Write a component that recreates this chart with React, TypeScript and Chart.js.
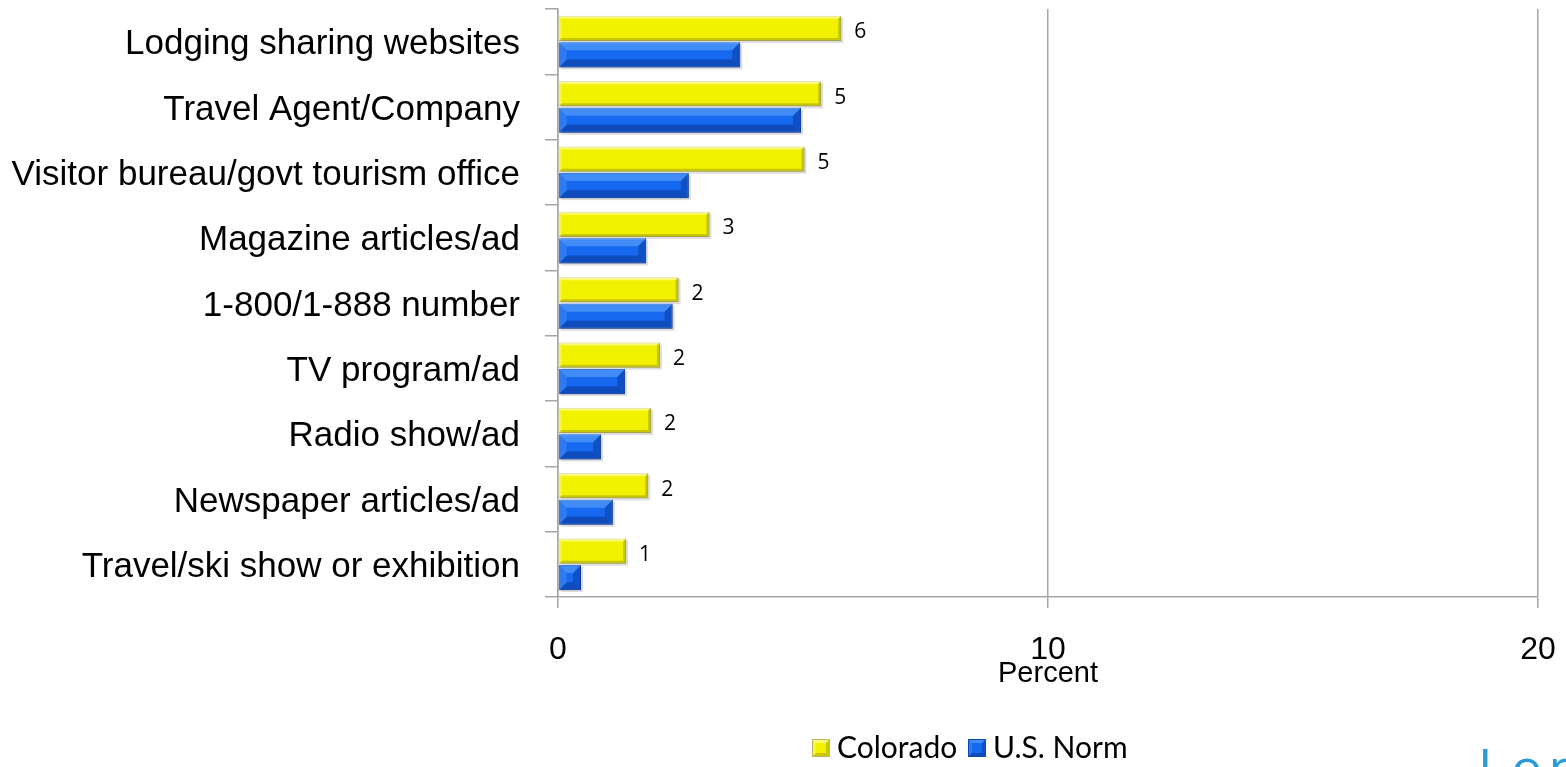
import React, { useEffect, useRef } from 'react';
import { Chart, registerables } from 'chart.js';

Chart.register(...registerables);

const categories = [
  'Lodging sharing websites',
  'Travel Agent/Company',
  'Visitor bureau/govt tourism office',
  'Magazine articles/ad',
  '1-800/1-888 number',
  'TV program/ad',
  'Radio show/ad',
  'Newspaper articles/ad',
  'Travel/ski show or exhibition',
];
const coloradoValues = [5.78, 5.37, 5.03, 3.09, 2.46, 2.08, 1.9, 1.84, 1.39];
const usNormValues = [3.72, 4.96, 2.67, 1.8, 2.34, 1.37, 0.88, 1.12, 0.47];
const coloradoLabels = ['6', '5', '5', '3', '2', '2', '2', '2', '1'];
const seriesNames = ['Colorado', 'U.S. Norm'];
const xMin = 0;
const xMax = 20;
const xStep = 10;
const axisTitle = 'Percent';
const logoText = 'Longwoods';

const ARIAL = "'Liberation Sans', Arial, sans-serif";
const CALIBRI = "'Open Sans', 'Noto Sans', sans-serif";
const LEGEND_FONT = "Lato, 'Open Sans', sans-serif";
const GRID = '#a6a6a6';
const YELLOW = '#F2F200';
const BLUE = '#1668EE';

type Bevel = { b: number; hi: string; lo: string; side: string; lside: string };
const yellowBevel: Bevel = { b: 3, hi: 'rgba(255,255,210,0.55)', lo: 'rgba(120,120,0,0.35)', side: 'rgba(120,120,0,0.35)', lside: 'rgba(255,255,200,0.3)' };
const blueBevel: Bevel = { b: 8, hi: 'rgba(110,175,255,0.5)', lo: 'rgba(0,20,90,0.32)', side: 'rgba(0,20,90,0.28)', lside: 'rgba(130,190,255,0.22)' };

function poly(ctx: CanvasRenderingContext2D, pts: number[][], fill: string) {
  ctx.beginPath();
  ctx.moveTo(pts[0][0], pts[0][1]);
  for (let i = 1; i < pts.length; i++) ctx.lineTo(pts[i][0], pts[i][1]);
  ctx.closePath();
  ctx.fillStyle = fill;
  ctx.fill();
}

function drawBevel(ctx: CanvasRenderingContext2D, l: number, t: number, r: number, bo: number, s: Bevel) {
  const b = Math.min(s.b, (r - l) / 2, (bo - t) / 2);
  poly(ctx, [[l, t], [r, t], [r - b, t + b], [l + b, t + b]], s.hi);
  poly(ctx, [[l, bo], [r, bo], [r - b, bo - b], [l + b, bo - b]], s.lo);
  poly(ctx, [[r, t], [r, bo], [r - b, bo - b], [r - b, t + b]], s.side);
  poly(ctx, [[l, t], [l, bo], [l + b, bo - b], [l + b, t + b]], s.lside);
}

const barEffects = {
  id: 'barEffects',
  beforeDatasetsDraw(chart: any) {
    const ctx = chart.ctx as CanvasRenderingContext2D;
    ctx.save();
    chart.data.datasets.forEach((_: any, di: number) => {
      chart.getDatasetMeta(di).data.forEach((bar: any) => {
        const { x, y, base, height } = bar.getProps(['x', 'y', 'base', 'height'], true);
        const l = Math.min(x, base);
        const w = Math.abs(x - base);
        ctx.fillStyle = 'rgba(0,0,0,0.13)';
        ctx.fillRect(l + 2, y - height / 2 + 2, w, height);
      });
    });
    ctx.restore();
  },
  afterDatasetsDraw(chart: any) {
    const ctx = chart.ctx as CanvasRenderingContext2D;
    ctx.save();
    chart.data.datasets.forEach((_: any, di: number) => {
      chart.getDatasetMeta(di).data.forEach((bar: any, i: number) => {
        const { x, y, base, height } = bar.getProps(['x', 'y', 'base', 'height'], true);
        const l = Math.min(x, base);
        const r = Math.max(x, base);
        drawBevel(ctx, l, y - height / 2, r, y + height / 2, di === 0 ? yellowBevel : blueBevel);
        if (di === 0) {
          ctx.fillStyle = '#000';
          ctx.font = `21px ${CALIBRI}`;
          ctx.textAlign = 'left';
          ctx.textBaseline = 'middle';
          ctx.fillText(coloradoLabels[i], r + 13, y + 4);
        }
      });
    });
    ctx.restore();
  },
  afterDraw(chart: any) {
    const ctx = chart.ctx as CanvasRenderingContext2D;
    ctx.save();
    // legend
    const items = [
      { text: seriesNames[0], color: YELLOW, bevel: yellowBevel, box: 812 },
      { text: seriesNames[1], color: BLUE, bevel: blueBevel, box: 968 },
    ];
    const cy = 748;
    items.forEach((it) => {
      const l = it.box;
      const t = cy - 9;
      ctx.fillStyle = it.color;
      ctx.fillRect(l, t, 18, 18);
      drawBevel(ctx, l, t, l + 18, t + 18, { ...it.bevel, b: 4 });
      ctx.strokeStyle = it.color === YELLOW ? '#B8B86A' : '#0E48B0';
      ctx.lineWidth = 1;
      ctx.strokeRect(l + 0.5, t + 0.5, 17, 17);
      ctx.fillStyle = '#000';
      ctx.font = `30px ${LEGEND_FONT}`;
      ctx.textAlign = 'left';
      ctx.textBaseline = 'middle';
      ctx.fillText(it.text, l + 25, cy);
    });
    // partial logo at bottom right
    ctx.fillStyle = '#2B9BD8';
    ctx.font = `52px ${CALIBRI}`;
    ctx.textAlign = 'left';
    ctx.textBaseline = 'alphabetic';
    (ctx as any).letterSpacing = '6px';
    ctx.fillText(logoText, 1478, 786);
    ctx.restore();
  },
};

export default function App() {
  const ref = useRef<HTMLCanvasElement | null>(null);
  useEffect(() => {
    if (!ref.current) return;
    const chart = new Chart(ref.current, {
      type: 'bar',
      data: {
        labels: categories,
        datasets: [
          {
            label: seriesNames[0],
            data: coloradoValues,
            backgroundColor: YELLOW,
            borderColor: '#B8B86A',
            borderWidth: 1,
            categoryPercentage: 0.81,
            barPercentage: 0.95,
          },
          {
            label: seriesNames[1],
            data: usNormValues,
            backgroundColor: BLUE,
            borderColor: '#0E48B0',
            borderWidth: 1,
            categoryPercentage: 0.81,
            barPercentage: 0.95,
          },
        ],
      },
      options: {
        indexAxis: 'y',
        responsive: false,
        animation: false,
        layout: { padding: { top: 9, right: 28, bottom: 70, left: 0 } },
        plugins: { legend: { display: false }, tooltip: { enabled: false } },
        scales: {
          x: {
            min: xMin,
            max: xMax,
            ticks: { stepSize: xStep, font: { family: ARIAL, size: 32 }, color: '#000', padding: 23 },
            grid: { color: GRID, lineWidth: 1.5, tickLength: 11 },
            border: { display: true, color: GRID, width: 1.5 },
            title: {
              display: true,
              text: axisTitle,
              font: { family: ARIAL, size: 29 },
              color: '#000',
              padding: { top: 0, bottom: 6 },
            },
            afterFit: (s: any) => {
              s.height = 100;
              s.paddingLeft = 0;
              s.paddingRight = 0;
            },
          },
          y: {
            grid: { drawOnChartArea: false, tickLength: 13, color: GRID, lineWidth: 1.5, offset: true },
            border: { display: true, color: GRID, width: 1.5 },
            ticks: { font: { family: ARIAL, size: 35 }, color: '#000', padding: 25, autoSkip: false, labelOffset: 3 },
            afterFit: (s: any) => {
              s.width = 558;
              s.paddingTop = 0;
              s.paddingBottom = 0;
            },
          },
        },
      } as any,
      plugins: [barEffects],
    });
    return () => chart.destroy();
  }, []);
  return (
    <div style={{ position: 'fixed', left: 0, top: 0, width: 1566, height: 767, background: '#fff' }}>
      <canvas ref={ref} width={1566} height={767} style={{ display: 'block' }} />
    </div>
  );
}
